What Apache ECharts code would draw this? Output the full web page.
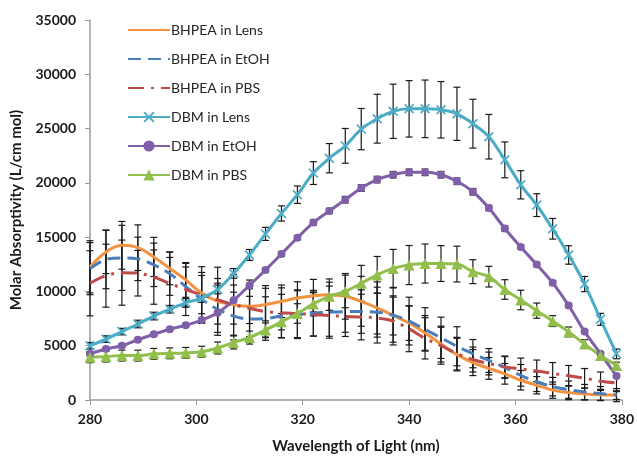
<!DOCTYPE html>
<html>
<head>
<meta charset="utf-8">
<script src="https://cdn.jsdelivr.net/npm/echarts@6/dist/echarts.min.js"></script>
<style>
  html, body { margin: 0; padding: 0; background: #fff; }
  #chart { width: 637px; height: 459px; }
</style>
</head>
<body>
<div id="chart"></div>
<script>
// Wavelength sampling (nm)
const wavelengths = [280, 283, 286, 289, 292, 295, 298, 301, 304, 307, 310, 313, 316, 319, 322, 325, 328,
                     331, 334, 337, 340, 343, 346, 349, 352, 355, 358, 361, 364, 367, 370, 373, 376, 379];

// Molar absorptivity (L/cm mol) and standard deviations
const bhpeaLens    = [12270, 13640, 14250, 14030, 13180, 12120, 11060, 9850, 9090, 8790, 8640, 8790, 9090, 9390, 9610, 9700, 9550,
                      9090, 8480, 7790, 7090, 6180, 5150, 4180, 3450, 2910, 2410, 1820, 1360, 910, 680, 550, 480, 450];
const bhpeaLensErr = [2400, 2000, 2200, 2100, 1800, 1500, 1600, 1900, 2100, 1800, 1600, 1500, 1500, 1500, 1500, 1450, 2100,
                      2300, 2400, 1800, 1600, 1600, 1650, 1500, 1200, 1000, 950, 900, 800, 750, 650, 550, 500, 400];

const bhpeaEtoh    = [12100, 12950, 13090, 13000, 12450, 11640, 10450, 9270, 8360, 7730, 7450, 7500, 7730, 7860, 8000, 8090, 8140,
                      8140, 8090, 7820, 7270, 6500, 5730, 4950, 4270, 3640, 3000, 2270, 1680, 1230, 950, 730, 590, 450];
const bhpeaEtohErr = [2400, 2700, 3000, 2000, 2000, 2000, 1800, 2200, 2400, 2200, 2100, 2000, 2000, 2200, 2100, 2400, 1900,
                      2000, 2300, 2500, 2200, 2000, 1900, 1800, 1300, 1100, 1000, 1000, 900, 850, 800, 700, 650, 600];

const bhpeaPbs     = [10750, 11450, 11730, 11680, 11320, 10730, 10180, 9680, 9230, 8770, 8450, 8140, 8030, 7950, 7880, 7770, 7700,
                      7640, 7550, 7270, 6550, 5680, 5000, 4270, 3730, 3360, 3050, 2860, 2680, 2450, 2230, 2000, 1730, 1570];
const bhpeaPbsErr  = [3000, 2900, 3000, 2100, 2500, 2400, 2400, 2600, 3000, 2800, 2600, 2400, 2300, 2200, 2000, 1900, 1850,
                      2100, 2300, 2200, 2100, 1900, 1700, 1500, 1150, 1050, 1000, 1000, 1000, 1000, 950, 900, 850, 800];

const dbmLens      = [5000, 5610, 6300, 7000, 7730, 8360, 8940, 9390, 10180, 11660, 13360, 15300, 17180, 18910, 20900, 22270, 23410,
                      24950, 25910, 26590, 26820, 26820, 26730, 26360, 25450, 24250, 22120, 19820, 17950, 15770, 13360, 10680, 7430, 4250];
const dbmLensErr   = [300, 300, 300, 350, 350, 350, 400, 400, 400, 450, 500, 600, 700, 800, 1050, 1350, 1600,
                      1900, 2250, 2500, 2600, 2650, 2600, 2450, 2250, 2050, 1650, 1300, 1050, 950, 850, 700, 550, 450];

const dbmEtoh      = [4250, 4700, 5000, 5550, 6060, 6520, 6880, 7360, 8030, 9180, 10570, 11970, 13450, 14940, 16340, 17410, 18450,
                      19520, 20300, 20750, 20970, 20970, 20750, 20150, 19180, 17680, 15800, 14090, 12470, 10790, 8700, 6300, 4270, 2210];
const dbmEtohErr   = [150, 150, 150, 150, 150, 150, 150, 150, 150, 150, 150, 200, 200, 200, 250, 250, 300,
                      300, 300, 300, 300, 300, 300, 300, 300, 250, 250, 200, 200, 200, 200, 150, 150, 150];

const dbmPbs       = [3940, 4000, 4090, 4090, 4250, 4300, 4340, 4450, 4790, 5300, 5750, 6450, 7210, 7970, 8850, 9550, 10000,
                      10750, 11520, 12120, 12430, 12570, 12570, 12520, 11820, 11360, 10180, 9210, 8230, 7270, 6270, 5150, 4090, 3180];
const dbmPbsErr    = [500, 500, 500, 500, 500, 500, 500, 500, 550, 600, 600, 650, 750, 900, 1100, 1300, 1500,
                      1650, 1700, 1750, 1800, 1800, 1650, 1650, 1100, 950, 900, 900, 700, 500, 450, 400, 350, 300];

const yTicks = { min: 0, max: 35000, interval: 5000 };
const xTicks = { min: 280, max: 380, interval: 20 };

const pairs = (vals) => wavelengths.map((w, i) => [w, vals[i]]);
const bars = (vals, errs) => wavelengths.map((w, i) => [w, vals[i] - errs[i], vals[i] + errs[i]]);

// Thin "x" marker outline as a filled polygon
const crossMark = 'path://M0,1.2L1.2,0L5,3.8L8.8,0L10,1.2L6.2,5L10,8.8L8.8,10L5,6.2L1.2,10L0,8.8L3.8,5Z';

function errorBarItem(params, api) {
  const x = api.value(0);
  const lo = api.coord([x, api.value(1)]);
  const hi = api.coord([x, api.value(2)]);
  const cap = 3.5;
  const style = { stroke: '#1a1a1a', lineWidth: 1.2 };
  return {
    type: 'group',
    children: [
      { type: 'line', shape: { x1: lo[0], y1: lo[1], x2: hi[0], y2: hi[1] }, style },
      { type: 'line', shape: { x1: lo[0] - cap, y1: lo[1], x2: lo[0] + cap, y2: lo[1] }, style },
      { type: 'line', shape: { x1: hi[0] - cap, y1: hi[1], x2: hi[0] + cap, y2: hi[1] }, style }
    ]
  };
}

function errorSeries(vals, errs) {
  return {
    type: 'custom',
    renderItem: errorBarItem,
    data: bars(vals, errs),
    encode: { x: 0, y: [1, 2] },
    z: 1,
    silent: true,
    clip: false
  };
}

function lineSeries(name, vals, color, opts) {
  return Object.assign({
    name: name,
    type: 'line',
    data: pairs(vals),
    smooth: 0.35,
    showSymbol: false,
    symbol: 'none',
    z: 3,
    lineStyle: { color: color, width: 3 },
    itemStyle: { color: color }
  }, opts || {});
}

const chart = echarts.init(document.getElementById('chart'), null, { renderer: 'canvas' });

const axisFont = { fontFamily: 'Lato', fontWeight: 'bold', fontSize: 14, color: '#1a1a1a' };
const lineOnly = { opacity: 0 };

chart.setOption({
  animation: false,
  backgroundColor: '#ffffff',
  grid: { left: 90, right: 12, top: 20, bottom: 49 },
  legend: {
    data: [
      { name: 'BHPEA in Lens', itemStyle: lineOnly },
      { name: 'BHPEA in EtOH', itemStyle: lineOnly },
      { name: 'BHPEA in PBS', itemStyle: lineOnly },
      { name: 'DBM in Lens' },
      { name: 'DBM in EtOH' },
      { name: 'DBM in PBS' }
    ],
    orient: 'vertical',
    left: 122,
    top: 18,
    itemWidth: 42,
    itemHeight: 14,
    itemGap: 15,
    textStyle: { fontFamily: 'Lato', fontSize: 14, color: '#262626', padding: [0, 0, 0, -4] }
  },
  xAxis: {
    type: 'value',
    min: xTicks.min, max: xTicks.max, interval: xTicks.interval,
    name: 'Wavelength of Light (nm)',
    nameLocation: 'middle',
    nameGap: 39,
    nameTextStyle: Object.assign({}, axisFont, { fontSize: 15 }),
    axisLine: { show: true, lineStyle: { color: '#9a9a9a', width: 1.5 } },
    axisTick: { show: true, length: 5, lineStyle: { color: '#9a9a9a' } },
    axisLabel: Object.assign({ margin: 12, formatter: (v) => String(v) }, axisFont),
    splitLine: { show: false }
  },
  yAxis: {
    type: 'value',
    min: yTicks.min, max: yTicks.max, interval: yTicks.interval,
    name: 'Molar Absorptivity (L/cm mol)',
    nameLocation: 'middle',
    nameGap: 66,
    nameTextStyle: Object.assign({}, axisFont, { fontSize: 15 }),
    axisLine: { show: true, lineStyle: { color: '#9a9a9a', width: 1.5 } },
    axisTick: { show: true, length: 5, lineStyle: { color: '#9a9a9a' } },
    axisLabel: Object.assign({ margin: 14, formatter: (v) => String(v) }, axisFont),
    splitLine: { show: false }
  },
  series: [
    errorSeries(bhpeaLens, bhpeaLensErr),
    errorSeries(bhpeaEtoh, bhpeaEtohErr),
    errorSeries(bhpeaPbs, bhpeaPbsErr),
    errorSeries(dbmLens, dbmLensErr),
    errorSeries(dbmEtoh, dbmEtohErr),
    errorSeries(dbmPbs, dbmPbsErr),
    lineSeries('BHPEA in Lens', bhpeaLens, '#F39240'),
    lineSeries('BHPEA in EtOH', bhpeaEtoh, '#4A7EBB', {
      lineStyle: { color: '#4A7EBB', width: 3, type: [13, 7] }
    }),
    lineSeries('BHPEA in PBS', bhpeaPbs, '#BE4B48', {
      lineStyle: { color: '#BE4B48', width: 3, type: [16, 7, 3, 7] }
    }),
    lineSeries('DBM in Lens', dbmLens, '#4BACC6', {
      showSymbol: true, symbol: crossMark, symbolSize: 10, z: 4
    }),
    lineSeries('DBM in EtOH', dbmEtoh, '#7F5FA8', {
      showSymbol: true, symbol: 'circle', symbolSize: 8, z: 4
    }),
    lineSeries('DBM in PBS', dbmPbs, '#92BE4C', {
      showSymbol: true, symbol: 'triangle', symbolSize: 11, z: 4
    })
  ]
});
</script>
</body>
</html>
